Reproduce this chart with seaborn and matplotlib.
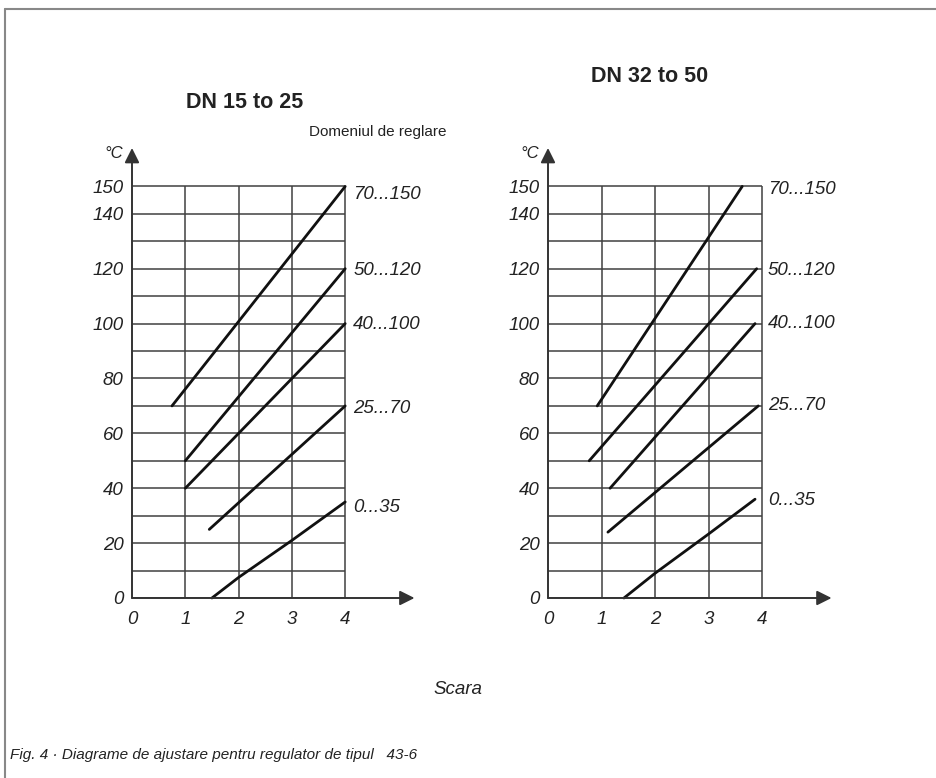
import numpy as np
import pandas as pd
import seaborn as sns
import matplotlib.pyplot as plt
from matplotlib.lines import Line2D

# setting ranges (label at the end of every line)
ranges = ["70...150", "50...120", "40...100", "25...70", "0...35"]

# DN 15 to 25: scale position vs temperature
left_range = ["70...150", "70...150", "50...120", "50...120", "40...100", "40...100",
              "25...70", "25...70", "0...35", "0...35", "0...35", "0...35"]
left_scale = [0.75, 4.0, 1.0, 4.0, 1.0, 4.0, 1.45, 4.0, 1.5, 2.0, 3.0, 4.0]
left_temp = [70, 150, 50, 120, 40, 100, 25, 70, 0, 7.5, 21, 35]
left_label_y = [147, 119.5, 99.5, 69, 33]

# DN 32 to 50
right_range = ["70...150", "70...150", "50...120", "50...120", "40...100", "40...100",
               "25...70", "25...70", "0...35", "0...35", "0...35", "0...35"]
right_scale = [0.92, 3.63, 0.77, 3.9, 1.16, 3.87, 1.12, 3.93, 1.42, 2.0, 3.0, 3.87]
right_temp = [70, 150, 50, 120, 40, 100, 24, 70, 0, 9, 23.3, 36]
right_label_y = [149, 119.5, 100, 70, 35.5]

grid_y = list(range(0, 151, 10))
grid_x = [1, 2, 3, 4]
ytick_vals = [0, 20, 40, 60, 80, 100, 120, 140, 150]
xtick_vals = [0, 1, 2, 3, 4]

sns.set_style("white")
plt.rcParams["font.family"] = ["Liberation Sans", "DejaVu Sans"]

W, H = 936, 778
fig = plt.figure(figsize=(W / 100, H / 100), dpi=100)


def panel(x0_px, px_unit, rng, scale, temp, label_y, label_x):
    ax = fig.add_axes([x0_px / W, (H - 598) / H, 5.4 * px_unit / W, 168 * 2.744 / H])
    ax.set_xlim(0, 5.4)
    ax.set_ylim(0, 168)
    for s in ax.spines.values():
        s.set_visible(False)

    ax.hlines(grid_y, 0, 4, color="#404040", lw=1.1, zorder=1)
    ax.vlines(grid_x, 0, 150, color="#404040", lw=1.1, zorder=1)

    df = pd.DataFrame({"range": rng, "scale": scale, "temp": temp})
    sns.lineplot(data=df, x="scale", y="temp", hue="range", units="range",
                 estimator=None, palette=["#111111"] * len(ranges),
                 legend=False, lw=2, ax=ax, clip_on=False, zorder=3)

    # axis arrows
    ax.annotate("", xy=(5.3, 0), xytext=(0, 0), annotation_clip=False,
                arrowprops=dict(arrowstyle="-|>", color="#333333", lw=1.4,
                                mutation_scale=22, shrinkA=0, shrinkB=0))
    ax.annotate("", xy=(0, 164), xytext=(0, 0), annotation_clip=False,
                arrowprops=dict(arrowstyle="-|>", color="#333333", lw=1.4,
                                mutation_scale=22, shrinkA=0, shrinkB=0))

    ax.set_yticks(ytick_vals)
    ax.set_yticklabels([str(v) for v in ytick_vals], fontstyle="italic")
    ax.set_xticks(xtick_vals)
    ax.set_xticklabels([str(v) for v in xtick_vals], fontstyle="italic")
    ax.tick_params(axis="both", length=4, width=1, color="#444444",
                   labelsize=13.5, labelcolor="#222222")
    ax.tick_params(axis="y", pad=2)
    ax.tick_params(axis="x", pad=5)
    ax.set_xlabel("")
    ax.set_ylabel("")

    for r, ly in zip(ranges, label_y):
        ax.text(label_x, ly, r, fontsize=13.5, fontstyle="italic",
                va="center", ha="left", color="#222222")

    ax.text(-0.34, 162, "°C", fontsize=12, fontstyle="italic",
            ha="center", va="center", color="#222222")
    return ax


panel(132, 53.3, left_range, left_scale, left_temp, left_label_y, 4.15)
panel(548, 53.5, right_range, right_scale, right_temp, right_label_y, 4.11)

# texts
fig.text(245 / W, 1 - 102 / H, "DN 15 to 25", fontsize=15.5,
         fontweight="bold", ha="center", va="center", color="#222222")
fig.text(650 / W, 1 - 76 / H, "DN 32 to 50", fontsize=15.5,
         fontweight="bold", ha="center", va="center", color="#222222")
fig.text(378 / W, 1 - 132 / H, "Domeniul de reglare", fontsize=11,
         ha="center", va="center", color="#222222")
fig.text(458 / W, 1 - 690 / H, "Scara", fontsize=13.5,
         fontstyle="italic", ha="center", va="center", color="#222222")
fig.text(10 / W, 1 - 755 / H,
         "Fig. 4 · Diagrame de ajustare pentru regulator de tipul   43-6",
         fontsize=11, fontstyle="italic", ha="left", va="center",
         color="#222222")

# frame (top and left edge)
fig.add_artist(Line2D([5 / W, 1], [1 - 9 / H, 1 - 9 / H], color="#888888", lw=1.5))
fig.add_artist(Line2D([5 / W, 5 / W], [0, 1 - 9 / H], color="#888888", lw=1.5))

fig.savefig("out.png", dpi=100)
